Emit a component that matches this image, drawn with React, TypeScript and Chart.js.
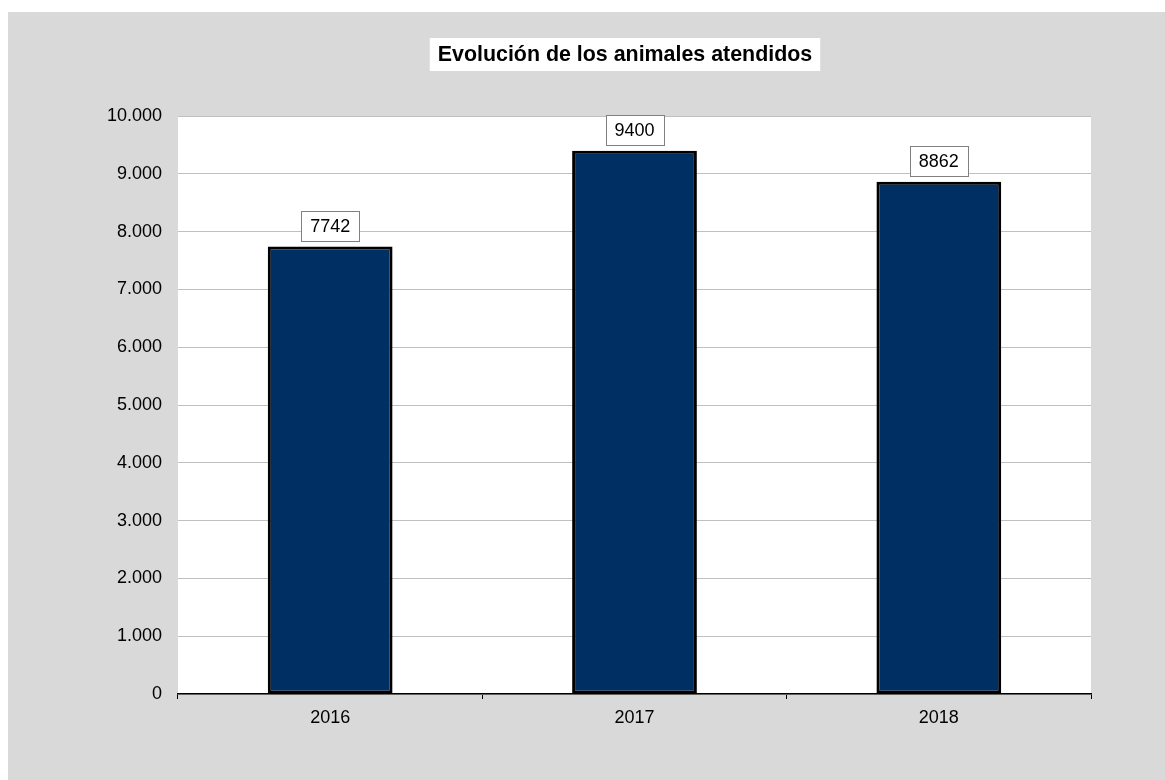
import React, { useEffect, useRef } from "react";
import { Chart, registerables } from "chart.js";

Chart.register(...registerables);

const titleText = "Evolución de los animales atendidos";
const categories = ["2016", "2017", "2018"];
const values = [7742, 9400, 8862];
const yMax = 10000;
const yStep = 1000;

const FONT = "'Liberation Sans', Arial, sans-serif";

function fmtThousands(v: number): string {
  const s = Math.round(v).toString();
  return s.replace(/\B(?=(\d{3})+(?!\d))/g, ".");
}

const bgPlugin = {
  id: "bgPlugin",
  beforeDraw(chart: any) {
    const { ctx, chartArea, width, height } = chart;
    ctx.save();
    ctx.fillStyle = "#d9d9d9";
    ctx.fillRect(0, 0, width, height);
    ctx.fillStyle = "#ffffff";
    ctx.fillRect(chartArea.left, chartArea.top, chartArea.right - chartArea.left, chartArea.bottom - chartArea.top);
    ctx.restore();
  },
};

const titlePlugin = {
  id: "titleBox",
  afterDraw(chart: any) {
    const { ctx } = chart;
    ctx.save();
    ctx.font = `bold 21.4px ${FONT}`;
    const w = ctx.measureText(titleText).width;
    const cx = 617;
    const cy = 42.5;
    const bw = w + 16;
    const bh = 33;
    ctx.fillStyle = "#ffffff";
    ctx.fillRect(cx - bw / 2, cy - bh / 2, bw, bh);
    ctx.fillStyle = "#000000";
    ctx.textAlign = "center";
    ctx.textBaseline = "middle";
    ctx.fillText(titleText, cx, cy + 1);
    ctx.restore();
  },
};

const labelPlugin = {
  id: "valueLabels",
  afterDatasetsDraw(chart: any) {
    const { ctx } = chart;
    const meta = chart.getDatasetMeta(0);
    ctx.save();
    ctx.font = `18px ${FONT}`;
    meta.data.forEach((bar: any, i: number) => {
      const txt = String(values[i]);
      const w = ctx.measureText(txt).width;
      const bw = Math.round(w + 18);
      const bh = 30;
      const x = Math.round(bar.x - bw / 2) + 0.5;
      const y = Math.round(bar.y - 6 - bh) + 0.5;
      ctx.fillStyle = "#ffffff";
      ctx.fillRect(x, y, bw, bh);
      ctx.strokeStyle = "#808080";
      ctx.lineWidth = 1;
      ctx.strokeRect(x, y, bw, bh);
      ctx.fillStyle = "#000000";
      ctx.textAlign = "center";
      ctx.textBaseline = "middle";
      ctx.fillText(txt, bar.x, y + bh / 2 + 1);
    });
    ctx.restore();
  },
};

export default function App() {
  const ref = useRef<HTMLCanvasElement | null>(null);
  useEffect(() => {
    if (!ref.current) return;
    const chart = new Chart(ref.current, {
      type: "bar",
      data: {
        labels: categories,
        datasets: [
          {
            data: values,
            backgroundColor: "#002f63",
            borderColor: "#000000",
            borderWidth: 3,
            borderSkipped: false,
            barPercentage: 0.41,
            categoryPercentage: 1,
          },
        ],
      },
      options: {
        responsive: false,
        animation: false,
        layout: { padding: { left: 100, right: 74, top: 104, bottom: 36 } },
        plugins: {
          legend: { display: false },
          title: { display: false },
          tooltip: { enabled: false },
        },
        scales: {
          x: {
            afterFit(scale: any) {
              scale.height = 50;
            },
            grid: {
              drawOnChartArea: false,
              drawTicks: true,
              tickLength: 5,
              color: "#000000",
              offset: true,
            },
            border: { display: true, color: "#000000", width: 1.5, z: 1 },
            ticks: {
              color: "#000000",
              font: { family: FONT, size: 18 },
              padding: 8,
            },
          },
          y: {
            min: 0,
            max: yMax,
            afterFit(scale: any) {
              scale.width = 70;
            },
            grid: { color: "#c0c0c0", drawTicks: false, lineWidth: 1 },
            border: { display: false },
            ticks: {
              stepSize: yStep,
              color: "#000000",
              font: { family: FONT, size: 18 },
              padding: 16,
              callback: (v: any) => fmtThousands(Number(v)),
            },
          },
        },
      },
      plugins: [bgPlugin, titlePlugin, labelPlugin],
    });
    return () => chart.destroy();
  }, []);
  return (
    <div style={{ position: "fixed", left: 8, top: 12, width: 1157, height: 768, background: "#d9d9d9" }}>
      <canvas ref={ref} width={1157} height={768} style={{ display: "block", width: 1157, height: 768 }} />
    </div>
  );
}
